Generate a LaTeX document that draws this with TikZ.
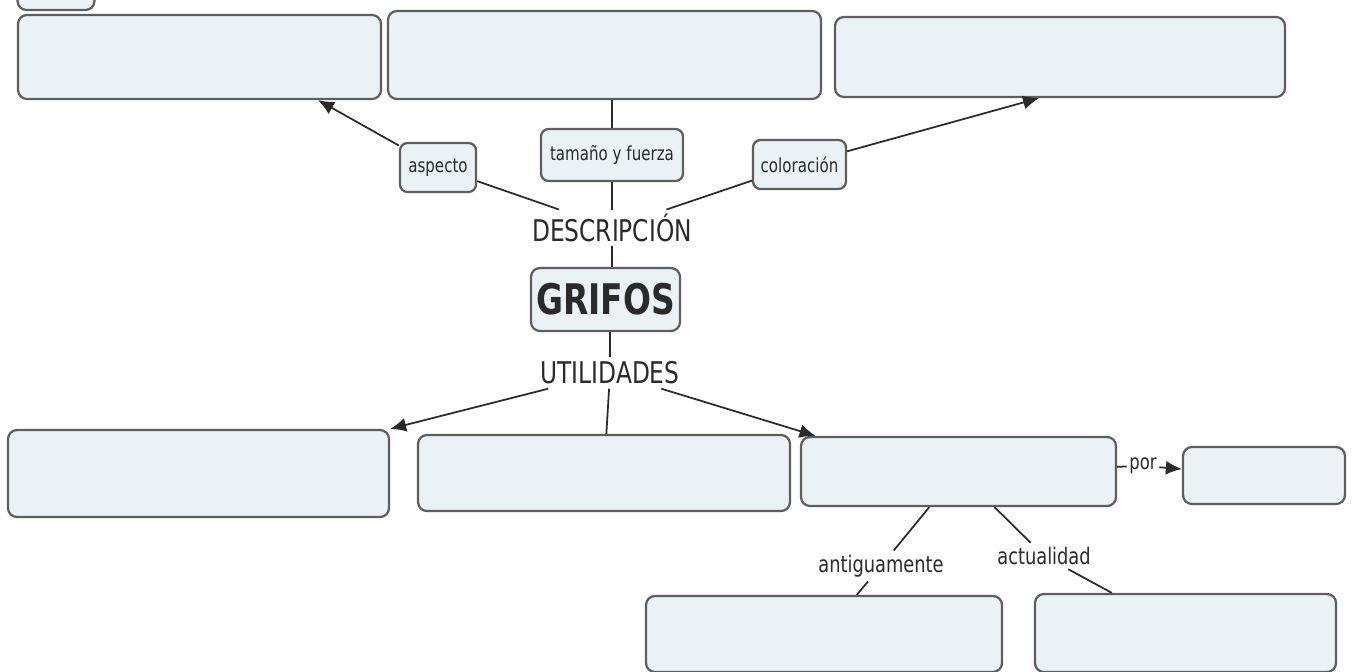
\documentclass[tikz,border=0pt]{standalone}
\usepackage{fontspec}
\setmainfont{DejaVu Sans}[FakeStretch=0.78]
\usepackage{tikz}
\usetikzlibrary{%
  positioning
 ,arrows.meta
 ,calc
}
\definecolor{boxfill}{HTML}{EAF2F5}
\definecolor{boxline}{HTML}{5E5E5E}
\definecolor{ink}{HTML}{2A2A2A}
\tikzstyle{map}=[x=0.2mm,y=-0.2mm,>={Latex[length=3.2mm,width=2.8mm]},line width=0.35mm,draw=ink]
\tikzstyle{cbox}=[rectangle,rounded corners=1.8mm,draw=boxline,fill=boxfill,line width=0.45mm,inner sep=0pt]
\tikzstyle{lbox}=[cbox,rounded corners=1.5mm,text=ink,font=\fontsize{11}{13}\selectfont]
\tikzstyle{word}=[text=ink,inner sep=2pt]

\begin{document}
\begin{tikzpicture}[map]
  \useasboundingbox (0,0) rectangle (1354,672);
  \node[cbox,minimum width=15.4mm,minimum height=8mm] (frag) at (56,-10) {};
% upper row
  \node[cbox,minimum width=72.6mm,minimum height=16.8mm] (t_1) at (199.5,57) {};
  \node[cbox,minimum width=86.6mm,minimum height=17.6mm] (t_2) at (604.5,55) {};
  \node[cbox,minimum width=90mm,minimum height=16mm]     (t_3) at (1060,57) {};
% links
  \node[lbox,minimum width=15.2mm,minimum height=9.8mm]  (asp) at (438,167.5) {aspecto};
  \node[lbox,minimum width=28.4mm,minimum height=10.4mm] (tam) at (612,155) {tamaño y fuerza};
  \node[lbox,minimum width=18.6mm,minimum height=9.8mm]  (col) at (799.5,164.5) {coloración};
  \node[word,font=\fontsize{17}{20}\selectfont] (desc) at (612,228) {DESCRIPCIÓN};
  \node[cbox,minimum width=29.8mm,minimum height=12.6mm,text=ink,font=\fontsize{24}{28}\selectfont\bfseries] (grifos) at (605.5,299.5) {GRIFOS};
  \node[word,font=\fontsize{17}{20}\selectfont] (util) at (610,373) {UTILIDADES};
% lower row
  \node[cbox,minimum width=76.2mm,minimum height=17.4mm] (b_1) at (198.5,473.5) {};
  \node[cbox,minimum width=74.4mm,minimum height=15.2mm] (b_2) at (604,473) {};
  \node[cbox,minimum width=63mm,minimum height=13.8mm]   (b_3) at (958.5,471.5) {};
  \node[cbox,minimum width=32.4mm,minimum height=11.4mm] (b_4) at (1264,475.5) {};
  \node[cbox,minimum width=71.2mm,minimum height=15.2mm] (b_5) at (824,634) {};
  \node[cbox,minimum width=60.2mm,minimum height=15.6mm] (b_6) at (1185.5,633) {};
  \node[word,inner sep=1pt,font=\fontsize{12}{14}\selectfont] (por) at (1143,466) {por};
  \node[word,font=\fontsize{13}{15}\selectfont] (ant) at (881,566) {antiguamente};
  \node[word,font=\fontsize{13}{15}\selectfont] (act) at (1044,556) {actualidad};
%
  \path[draw=ink]
  (desc)   edge (asp)
  (tam)    edge (tam |- t_2.south)
  (desc)   edge (tam)
  (desc)   edge (col)
  (desc.south) edge (desc.south |- grifos.north)
  (util.north) edge (util.north |- grifos.south)
  (util)   edge (b_2)
  (b_3)    edge (por)
  (b_3)    edge (ant)
  (ant)    edge (b_5)
  (b_3)    edge (act)
  (act)    edge (b_6);
  \path[->,draw=ink]
  (asp)  edge (t_1.-20)
  (col)  edge (t_3.-117)
  (util) edge (b_1.north east)
  (util) edge (b_3.166)
  (por)  edge (b_4);
\end{tikzpicture}
\end{document}
